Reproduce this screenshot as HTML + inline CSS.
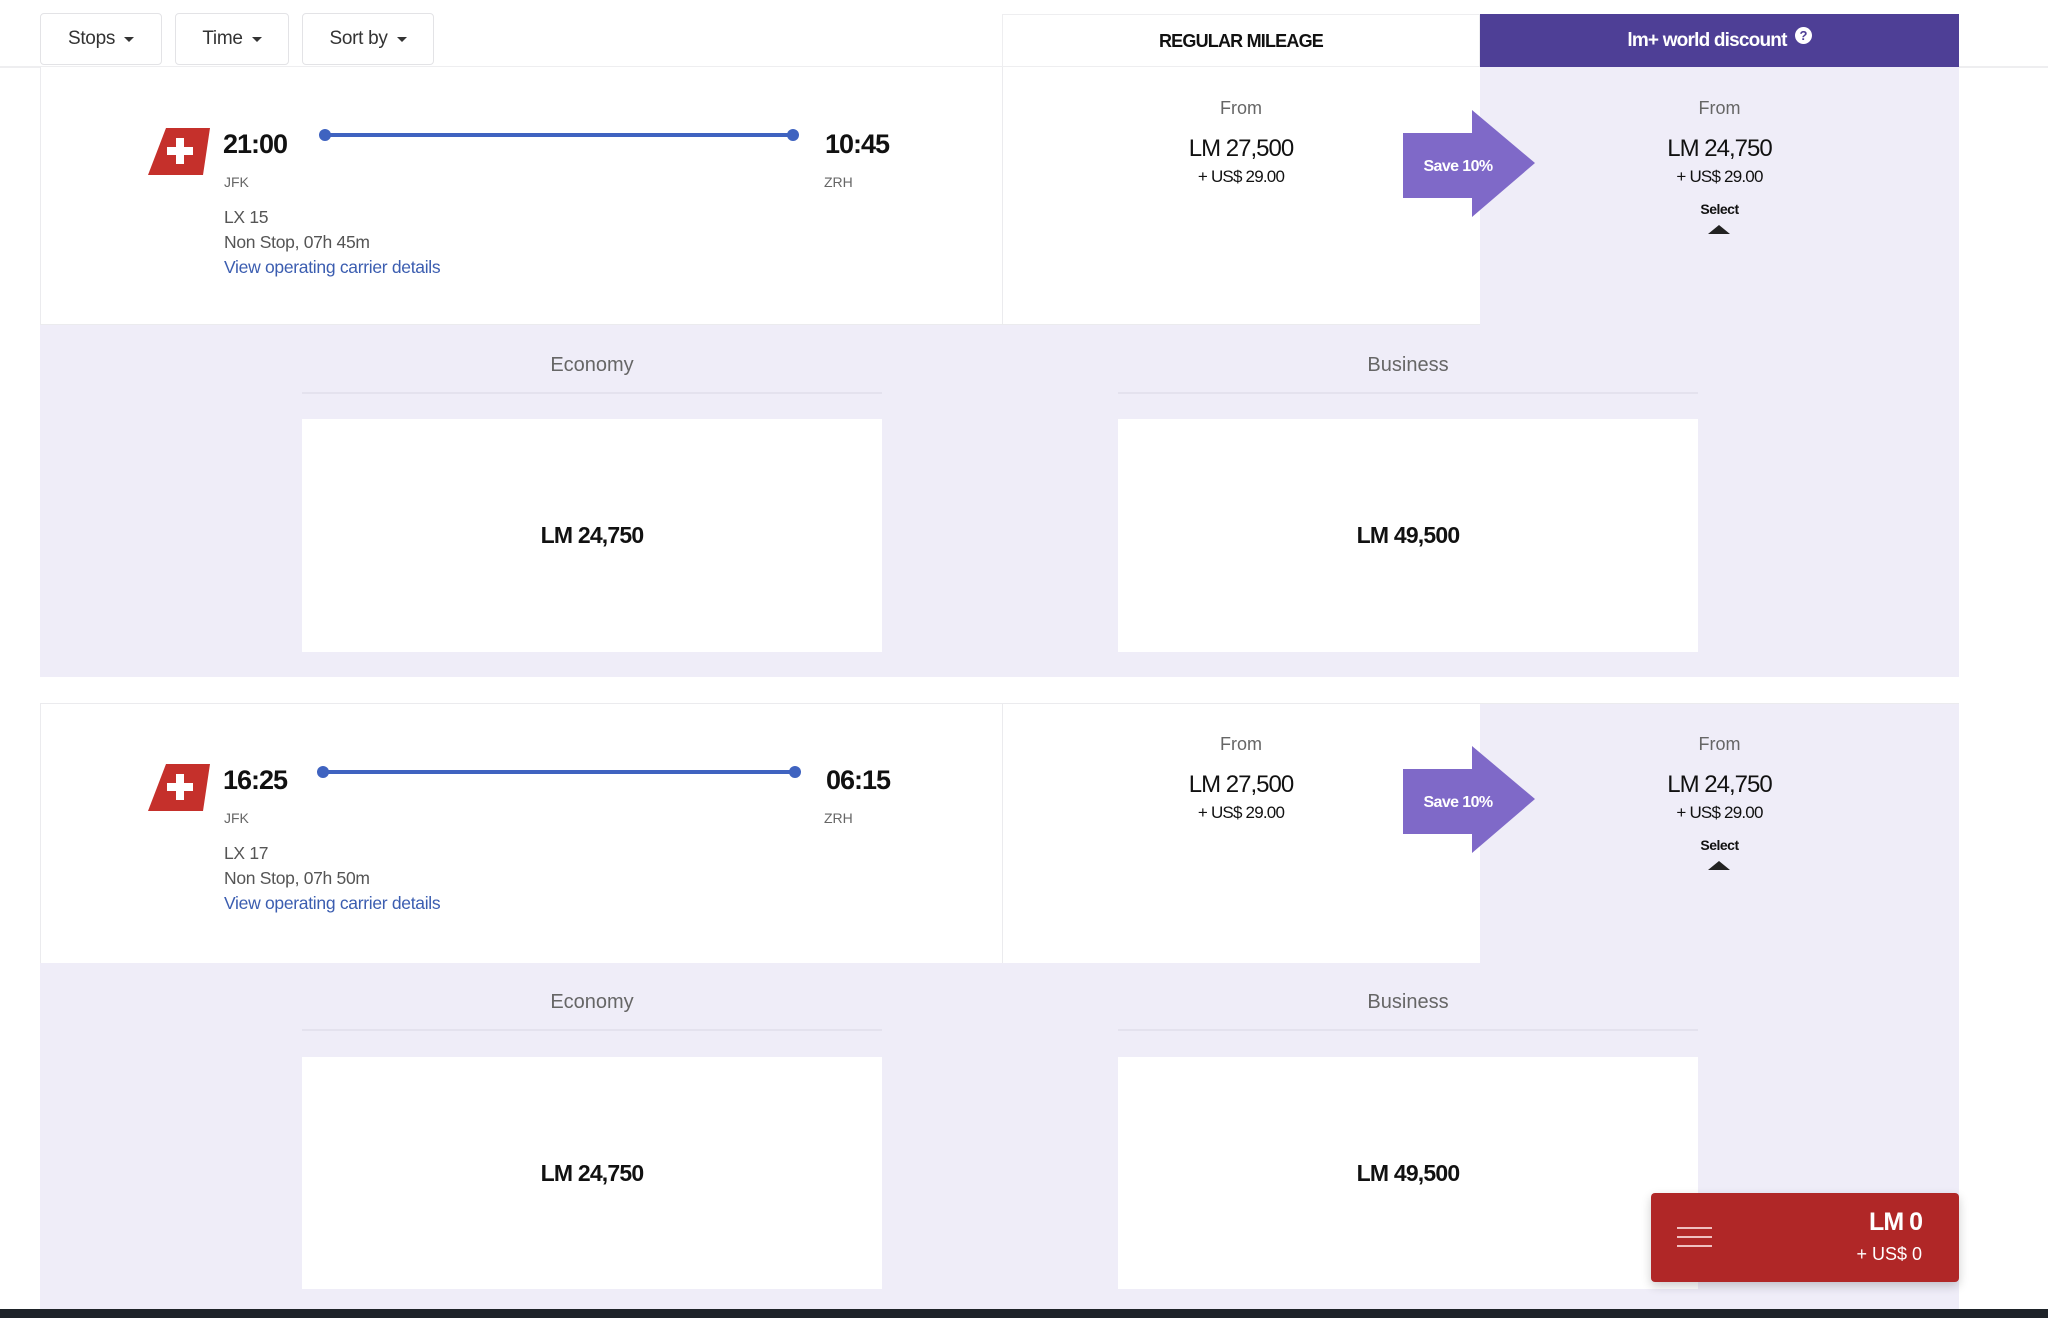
<!DOCTYPE html>
<html><head><meta charset="utf-8"><style>
*{margin:0;padding:0;box-sizing:border-box}
body{width:2048px;height:1318px;background:#fff;position:relative;overflow:hidden;font-family:"Liberation Sans",sans-serif;color:#111}
.a{position:absolute}
.btn{position:absolute;top:13px;height:52px;border:1px solid #e3e3e6;border-radius:4px;background:#fff;font-size:19px;color:#333;display:flex;align-items:center;justify-content:center;letter-spacing:-0.3px}
.btn:after{content:"";border-left:5px solid transparent;border-right:5px solid transparent;border-top:5px solid #333;margin-left:9px}
.c{text-align:center}
.t{font-size:27px;font-weight:bold;letter-spacing:-1px}
.sm{font-size:14px;color:#666}
.g{font-size:17.5px;color:#555;letter-spacing:-0.3px}
.lnk{font-size:17.5px;color:#3b5db0;letter-spacing:-0.3px}
.from{font-size:18px;color:#666}
.lm{font-size:24px;letter-spacing:-1px}
.usd{font-size:17px;letter-spacing:-0.8px}
.cls{font-size:20px;color:#666}
.box{position:absolute;background:#fff;display:flex;align-items:center;justify-content:center;font-size:23px;font-weight:bold;letter-spacing:-0.8px}
</style></head><body>
<div class="a" style="left:0;top:66px;width:2048px;height:2px;background:#eeeef0"></div>
<div class="btn" style="left:40px;width:122px">Stops</div>
<div class="btn" style="left:175px;width:114px">Time</div>
<div class="btn" style="left:302px;width:132px">Sort by</div>
<div class="a" style="left:1002px;top:14px;width:478px;height:53px;border:1px solid #eeeef0;border-bottom:none;display:flex;align-items:center;justify-content:center;font-size:18px;font-weight:bold;letter-spacing:-0.8px">REGULAR MILEAGE</div>
<div class="a" style="left:1480px;top:14px;width:479px;height:53px;background:#4e3f96;color:#fff;display:flex;align-items:center;justify-content:center;font-size:19px;font-weight:bold;letter-spacing:-0.8px">lm+ world discount <span style="display:inline-block;width:17px;height:17px;border-radius:50%;background:#fff;color:#4e3f96;font-size:13px;text-align:center;line-height:17px;margin-left:8px;margin-top:-10px">?</span></div>

<!-- CARD 1 -->
<div class="a" style="left:40px;top:67px;width:1919px;height:258px;border:1px solid #ebebee;border-top:none;background:#fff"></div>
<div class="a" style="left:1002px;top:67px;width:1px;height:258px;background:#ebebee"></div>
<div class="a" style="left:1480px;top:67px;width:479px;height:258px;background:#efedf8"></div>
<svg class="a" style="left:148px;top:128px" width="62" height="47"><polygon points="18,0 62,0 55,47 0,47" fill="#c5302b"/><rect x="28" y="10" width="8" height="26" fill="#fff"/><rect x="19" y="19" width="26" height="8" fill="#fff"/></svg>
<div class="a t" style="left:223px;top:129px">21:00</div>
<div class="a t" style="left:825px;top:129px">10:45</div>
<div class="a" style="left:325px;top:133px;width:468px;height:4px;background:#3f63c0"></div>
<div class="a" style="left:319px;top:129px;width:12px;height:12px;border-radius:50%;background:#3f63c0"></div>
<div class="a" style="left:787px;top:129px;width:12px;height:12px;border-radius:50%;background:#3f63c0"></div>
<div class="a sm" style="left:224px;top:174px">JFK</div>
<div class="a sm" style="left:824px;top:174px">ZRH</div>
<div class="a g" style="left:224px;top:207px">LX 15</div>
<div class="a g" style="left:224px;top:232px">Non Stop, 07h 45m</div>
<div class="a lnk" style="left:224px;top:257px">View operating carrier details</div>
<div class="a c from" style="left:1002px;width:478px;top:98px">From</div>
<div class="a c lm" style="left:1002px;width:478px;top:135px">LM 27,500</div>
<div class="a c usd" style="left:1002px;width:478px;top:167px">+ US$ 29.00</div>
<div class="a c from" style="left:1480px;width:479px;top:98px">From</div>
<div class="a c lm" style="left:1480px;width:479px;top:135px">LM 24,750</div>
<div class="a c usd" style="left:1480px;width:479px;top:167px">+ US$ 29.00</div>
<div class="a c" style="left:1480px;width:479px;top:201px;font-size:14px;font-weight:bold;letter-spacing:-0.5px">Select</div>
<div class="a" style="left:1708px;top:225px;border-left:11px solid transparent;border-right:11px solid transparent;border-bottom:9px solid #222"></div>
<svg class="a" style="left:1400px;top:108px" width="140" height="112"><polygon points="3,25 72,25 72,2 135,55 72,109 72,90 3,90" fill="#7f69c8"/><text x="58" y="63" fill="#fff" font-family="Liberation Sans" font-size="16" font-weight="bold" text-anchor="middle" letter-spacing="-0.6">Save 10%</text></svg>
<div class="a" style="left:40px;top:325px;width:1919px;height:352px;background:#efedf8"></div>
<div class="a c cls" style="left:302px;width:580px;top:354px">Economy</div>
<div class="a c cls" style="left:1118px;width:580px;top:354px">Business</div>
<div class="a" style="left:302px;top:392px;width:580px;height:2px;background:#e4e2ee"></div>
<div class="a" style="left:1118px;top:392px;width:580px;height:2px;background:#e4e2ee"></div>
<div class="box" style="left:302px;top:419px;width:580px;height:233px">LM 24,750</div>
<div class="box" style="left:1118px;top:419px;width:580px;height:233px">LM 49,500</div>

<!-- CARD 2 -->
<div class="a" style="left:40px;top:703px;width:1919px;height:260px;border:1px solid #ebebee;border-bottom:none;background:#fff"></div>
<div class="a" style="left:1002px;top:704px;width:1px;height:259px;background:#ebebee"></div>
<div class="a" style="left:1480px;top:704px;width:479px;height:259px;background:#efedf8"></div>
<svg class="a" style="left:148px;top:764px" width="62" height="47"><polygon points="18,0 62,0 55,47 0,47" fill="#c5302b"/><rect x="28" y="10" width="8" height="26" fill="#fff"/><rect x="19" y="19" width="26" height="8" fill="#fff"/></svg>
<div class="a t" style="left:223px;top:765px">16:25</div>
<div class="a t" style="left:826px;top:765px">06:15</div>
<div class="a" style="left:323px;top:770px;width:472px;height:4px;background:#3f63c0"></div>
<div class="a" style="left:317px;top:766px;width:12px;height:12px;border-radius:50%;background:#3f63c0"></div>
<div class="a" style="left:789px;top:766px;width:12px;height:12px;border-radius:50%;background:#3f63c0"></div>
<div class="a sm" style="left:224px;top:810px">JFK</div>
<div class="a sm" style="left:824px;top:810px">ZRH</div>
<div class="a g" style="left:224px;top:843px">LX 17</div>
<div class="a g" style="left:224px;top:868px">Non Stop, 07h 50m</div>
<div class="a lnk" style="left:224px;top:893px">View operating carrier details</div>
<div class="a c from" style="left:1002px;width:478px;top:734px">From</div>
<div class="a c lm" style="left:1002px;width:478px;top:771px">LM 27,500</div>
<div class="a c usd" style="left:1002px;width:478px;top:803px">+ US$ 29.00</div>
<div class="a c from" style="left:1480px;width:479px;top:734px">From</div>
<div class="a c lm" style="left:1480px;width:479px;top:771px">LM 24,750</div>
<div class="a c usd" style="left:1480px;width:479px;top:803px">+ US$ 29.00</div>
<div class="a c" style="left:1480px;width:479px;top:837px;font-size:14px;font-weight:bold;letter-spacing:-0.5px">Select</div>
<div class="a" style="left:1708px;top:861px;border-left:11px solid transparent;border-right:11px solid transparent;border-bottom:9px solid #222"></div>
<svg class="a" style="left:1400px;top:744px" width="140" height="112"><polygon points="3,25 72,25 72,2 135,55 72,109 72,90 3,90" fill="#7f69c8"/><text x="58" y="63" fill="#fff" font-family="Liberation Sans" font-size="16" font-weight="bold" text-anchor="middle" letter-spacing="-0.6">Save 10%</text></svg>
<div class="a" style="left:40px;top:963px;width:1919px;height:346px;background:#efedf8"></div>
<div class="a c cls" style="left:302px;width:580px;top:991px">Economy</div>
<div class="a c cls" style="left:1118px;width:580px;top:991px">Business</div>
<div class="a" style="left:302px;top:1029px;width:580px;height:2px;background:#e4e2ee"></div>
<div class="a" style="left:1118px;top:1029px;width:580px;height:2px;background:#e4e2ee"></div>
<div class="box" style="left:302px;top:1057px;width:580px;height:232px">LM 24,750</div>
<div class="box" style="left:1118px;top:1057px;width:580px;height:232px">LM 49,500</div>

<div class="a" style="left:1651px;top:1193px;width:308px;height:89px;background:#b02727;border-radius:4px;box-shadow:0 4px 10px rgba(0,0,0,0.2)"></div>
<div class="a" style="left:1677px;top:1227px;width:35px;height:2px;background:#f0c0c0"></div>
<div class="a" style="left:1677px;top:1236px;width:35px;height:2px;background:#f0c0c0"></div>
<div class="a" style="left:1677px;top:1245px;width:35px;height:2px;background:#f0c0c0"></div>
<div class="a" style="left:1800px;width:122px;top:1208px;text-align:right;color:#fff;font-size:25px;font-weight:bold;letter-spacing:-1px">LM 0</div>
<div class="a" style="left:1800px;width:122px;top:1244px;text-align:right;color:#fff;font-size:18px">+ US$ 0</div>
<div class="a" style="left:0;top:1309px;width:2048px;height:9px;background:#1e2329"></div>
</body></html>
